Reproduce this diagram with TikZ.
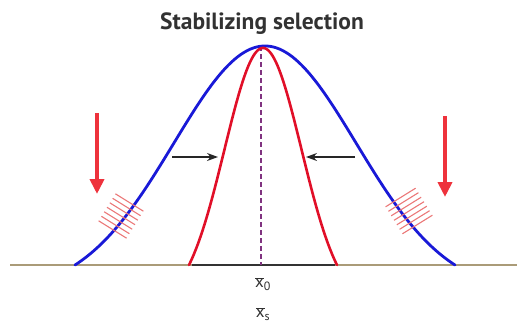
\documentclass[tikz,border=0pt]{standalone}
\usepackage{fontspec}
\setmainfont{PT Sans}
\usetikzlibrary{arrows.meta,calc}
\definecolor{curveblue}{RGB}{25,25,215}
\definecolor{curvered}{RGB}{225,15,40}
\definecolor{arrowred}{RGB}{238,50,60}
\definecolor{hatchred}{RGB}{235,120,120}
\definecolor{basetan}{RGB}{170,155,120}
\definecolor{textgray}{RGB}{50,50,50}
\tikzset{
  bluecurve/.style={draw=curveblue, line width=2.8pt, line cap=round},
  redcurve/.style={draw=curvered, line width=2.6pt, line cap=round},
  pressure/.style={draw=arrowred, line width=4.5pt, -{Triangle[length=15pt,width=14pt]}},
  squeeze/.style={draw=black!85, line width=1.2pt, -{Stealth[length=11pt,width=8pt]}},
  hatch/.style={draw=hatchred, line width=1.1pt},
  lbl/.style={text=textgray, inner sep=0pt, font=\fontsize{17}{19}\selectfont},
}
\begin{document}
\begin{tikzpicture}[x=1pt,y=-1pt]
\useasboundingbox (0,0) rectangle (517,325);
% title
\node[text=textgray, inner sep=0pt, anchor=base, font=\fontsize{23.5}{26}\selectfont\bfseries] (title) at (262,29) {Stabilizing selection};
% baseline
\coordinate (bl) at (10,265);
\coordinate (br) at (517,265);
\coordinate (dl) at (192,265);
\coordinate (dr) at (335,265);
\draw[basetan, line width=1.4pt] (bl) -- (br);
\draw[black!80, line width=1.5pt] (dl) -- (dr);
% mean line
\coordinate (mtop) at (261,46);
\coordinate (mbot) at (261,265);
\draw[violet!60!gray, line width=1.3pt, dash pattern=on 5pt off 3pt] (mtop) -- (mbot);
% curves
\draw[bluecurve] plot[domain=-190:190, samples=120] ({265+\x}, {265-219*(exp(-(\x/190)^2/0.4608)-0.1142)/0.8858});
\draw[redcurve] plot[domain=-74:74, samples=100] ({263+\x}, {265-217*(exp(-(\x/74)^2/0.5408)-0.1574)/0.8426});
% squeeze arrows
\coordinate (la0) at (172,157); \coordinate (la1) at (218,157);
\coordinate (ra0) at (355,157); \coordinate (ra1) at (306,157);
\draw[squeeze] (la0) -- (la1);
\draw[squeeze] (ra0) -- (ra1);
% red selection arrows
\coordinate (lp0) at (97,113); \coordinate (lp1) at (97,194);
\coordinate (rp0) at (445,116); \coordinate (rp1) at (445,197);
\draw[pressure] (lp0) -- (lp1);
\draw[pressure] (rp0) -- (rp1);
% hatching left
\foreach \i in {-3,...,3}{
  \draw[hatch] ($(121,216)+\i*(-2.8,4.5)+(-14,-8.7)$) -- ++(28,17.4);
}
% hatching right
\foreach \i in {-3,...,3}{
  \draw[hatch] ($(409,211)+\i*(2.8,4.5)+(-15,9.3)$) -- ++(30,-18.6);
}
% labels
\node[lbl] (x0) at (263,284) {$\overline{\hbox{x}}_{\hbox{\fontsize{12}{13}\selectfont 0}}$};
\node[lbl] (xs) at (263,314) {$\overline{\hbox{x}}_{\hbox{\fontsize{12}{13}\selectfont s}}$};
\end{tikzpicture}
\end{document}
